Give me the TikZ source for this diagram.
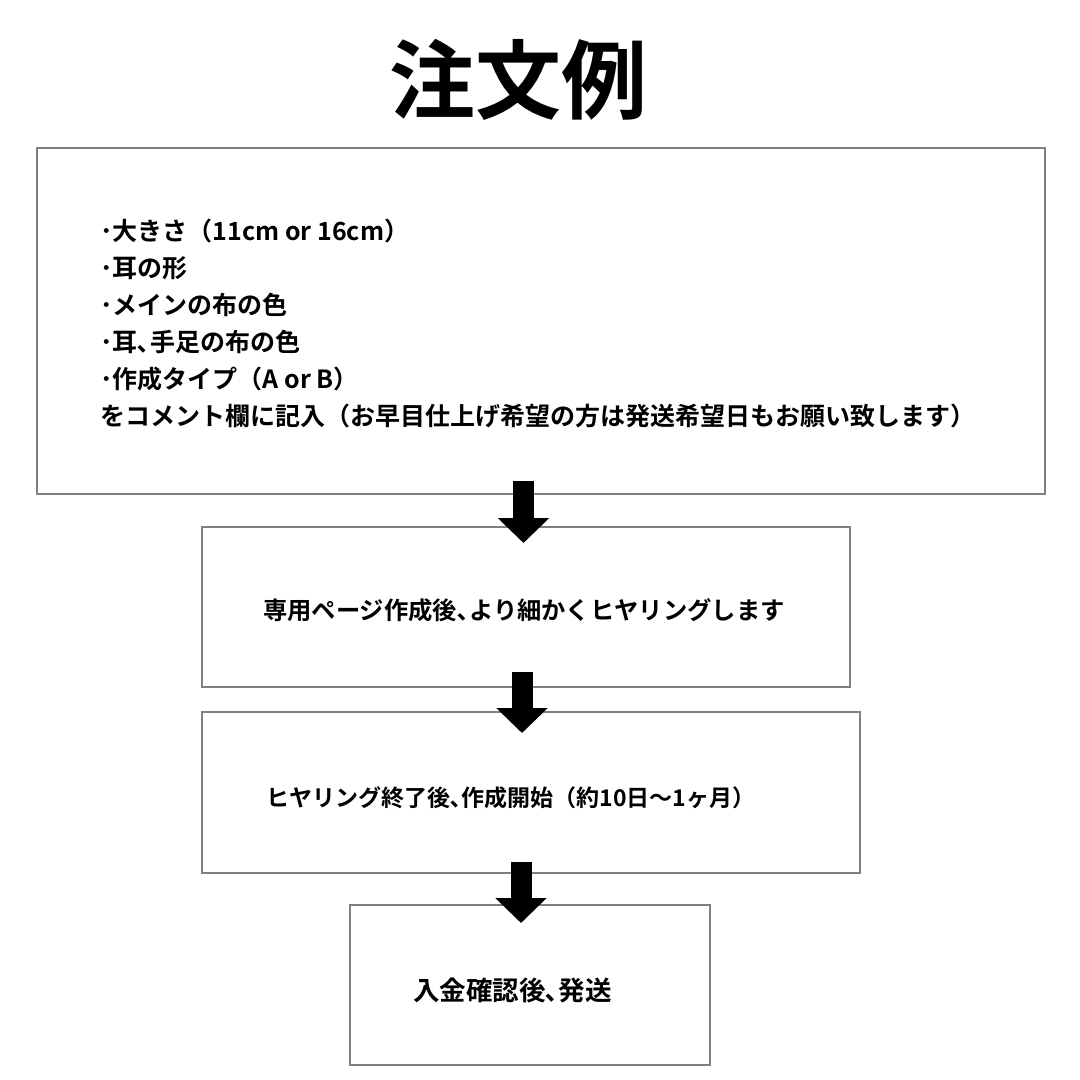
\documentclass[tikz,border=0pt]{standalone}
\usepackage{fontspec}
\usepackage{tikz}
\usetikzlibrary{positioning,arrows.meta}
\setmainfont{Noto Sans CJK JP}[BoldFont={Noto Sans CJK JP Bold}]
\definecolor{boxLine}{RGB}{128,128,128}
\tikzstyle{orderSheet} = [x = 1pt, y = -1pt]
\tikzstyle{flowBox} = [draw=boxLine, line width=2pt, fill=white, inner sep=0pt, outer sep=0pt]
\tikzstyle{flowArrow} = [line width=21pt, -{Triangle[width=50pt, length=25pt]}]
\tikzstyle{itemText} = [anchor=west, inner sep=0pt, font=\bfseries\fontsize{25}{30}\selectfont]
\tikzstyle{stepText} = [anchor=west, inner sep=0pt]
\newcommand{\stepFont}[1]{\bfseries\fontsize{#1}{#1}\selectfont}
\newcommand{\flowStep}[5]{\node [flowBox, minimum width=#3pt, minimum height=#4pt] (#5) at (#1,#2) {};}

\begin{document}
\begin{tikzpicture}[orderSheet]
  \fill [white] (0,0) rectangle (1080,1080);
  \useasboundingbox (0,0) rectangle (1080,1080);

  % title
  \node [font=\bfseries\fontsize{86}{90}\selectfont, inner sep=0pt] (title) at (518,80) {注文例};

  % boxes
  \flowStep{541}{321}{1008}{346}{order}
  \flowStep{526}{607}{648}{160}{hearing}
  \flowStep{531}{792.5}{658}{161}{making}
  \flowStep{530}{985}{360}{160}{shipping}

  % order items
  \foreach \item [count=\n] in {{･大きさ（11cm or 16cm）}, {･耳の形}, {･メインの布の色},
      {･耳､手足の布の色}, {･作成タイプ（A or B）},
      {をコメント欄に記入（お早目仕上げ希望の方は発送希望日もお願い致します）}} {
    \pgfmathsetmacro{\lineY}{231 + 37 * (\n - 1)}
    \node [itemText] (item\n) at (100,\lineY) {\item};
  }

  \node [stepText, font=\stepFont{24.3}] (hearingText) at (263,610) {専用ページ作成後､より細かくヒヤリングします};
  \node [stepText, font=\stepFont{23}] (makingText) at (266,798) {ヒヤリング終了後､作成開始（約10日〜1ヶ月）};
  \node [stepText, font=\stepFont{26.5}] (shippingText) at (413,990) {入金確認後､発送};

  % arrows
  \draw [flowArrow] ([xshift=-17.5pt, yshift=13pt]order.south) -- ([xshift=-2.5pt, yshift=-16pt]hearing.north);
  \draw [flowArrow] ([xshift=-4pt, yshift=15pt]hearing.south) -- ([xshift=-9pt, yshift=-21pt]making.north);
  \draw [flowArrow] ([xshift=-10pt, yshift=11pt]making.south) -- ([xshift=-9pt, yshift=-18pt]shipping.north);
\end{tikzpicture}
\end{document}
